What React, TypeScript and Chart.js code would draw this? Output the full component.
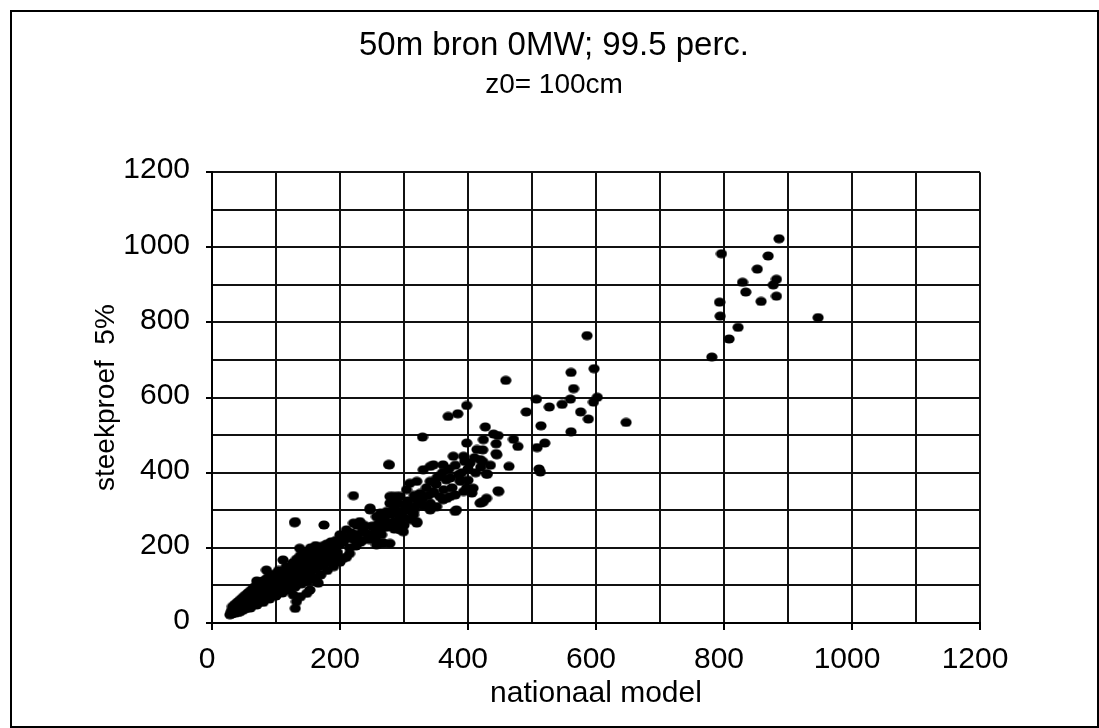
import React, { useEffect, useRef } from 'react';
import { Chart, registerables } from 'chart.js';

Chart.register(...registerables);

const titel = '50m bron 0MW; 99.5 perc.';
const ondertitel = 'z0= 100cm';
const xAsTitel = 'nationaal model';
const yAsTitel = 'steekproef  5%';
const asMin = 0;
const asMax = 1200;
const rasterStap = 100;
const labelStap = 200;

// dense band near the origin
const clusterLaag: [number, number][] = [
  [28, 22], [30, 30], [31, 24], [32, 36], [33, 28], [34, 42], [35, 32], [36, 26], [37, 38], [38, 46],
  [39, 34], [40, 28], [41, 42], [42, 50], [43, 36], [44, 30], [45, 46], [46, 56], [47, 40], [48, 34],
  [49, 50], [50, 60], [51, 44], [52, 38], [53, 54], [54, 64], [55, 48], [56, 40], [57, 58], [58, 70],
  [59, 52], [60, 44], [61, 62], [62, 74], [63, 56], [64, 48], [65, 66], [66, 80], [67, 60], [68, 52],
  [69, 70], [70, 84], [71, 64], [72, 56], [73, 76], [74, 90], [75, 68], [76, 58], [77, 80], [78, 94],
  [79, 72], [80, 62], [81, 84], [82, 100], [83, 76], [84, 66], [85, 90], [86, 104], [87, 80], [88, 70],
  [89, 94], [90, 110], [91, 84], [92, 74], [93, 98], [94, 116], [95, 88], [96, 78], [97, 102], [98, 120],
  [99, 92], [100, 82], [102, 108], [103, 126], [104, 96], [105, 86], [107, 114], [108, 132], [109, 100], [110, 90],
  [112, 120], [113, 138], [114, 106], [115, 94], [117, 126], [118, 144], [119, 110], [120, 100], [122, 132], [123, 150],
  [124, 116], [125, 104], [127, 138], [128, 156], [129, 122], [130, 110], [132, 144], [133, 162], [134, 128], [135, 116],
  [137, 150], [138, 168], [139, 134], [140, 120], [142, 156], [143, 174], [144, 140], [145, 126], [147, 162], [148, 180],
  [149, 146], [150, 132], [152, 168], [154, 186], [155, 152], [156, 138], [158, 174], [160, 192], [161, 158], [162, 144],
  [164, 180], [166, 198], [167, 164], [168, 150], [170, 186], [172, 204], [173, 170], [175, 156], [177, 192], [179, 210],
  [180, 176], [182, 162], [184, 198], [186, 216], [188, 182], [190, 168], [192, 204], [194, 220], [196, 188], [198, 174],
  [200, 210],
];

// upper and lower edge of the low band
const randLaag: [number, number][] = [
  [32, 44], [36, 50], [40, 56], [44, 62], [48, 68], [52, 74], [56, 80], [60, 86], [64, 92], [68, 98],
  [72, 102], [76, 108], [80, 112], [84, 116], [88, 122], [92, 126], [96, 130], [104, 140], [110, 124], [116, 150],
  [120, 136], [126, 160], [132, 170], [138, 180], [146, 190], [154, 200], [162, 206],
  [60, 40], [70, 48], [80, 55], [90, 64], [100, 72], [110, 80], [120, 88], [130, 96], [140, 104], [150, 112],
  [160, 120], [170, 128], [180, 140], [190, 150], [200, 162], [210, 175],
];

// scattered points around the low band
const uitschietersLaag: [number, number][] = [
  [70, 112], [85, 141], [111, 168], [129, 267], [137, 199], [164, 110], [153, 124], [132, 57], [130, 39], [148, 79],
  [138, 70], [127, 75], [166, 106], [153, 88], [175, 261], [205, 172], [174, 203], [190, 195], [221, 266], [130, 270],
];

// band 200 - 350
const clusterMidden: [number, number][] = [
  [200, 235], [205, 230], [210, 248], [221, 339], [226, 261], [231, 270], [236, 248], [247, 301], [252, 230], [257, 283],
  [257, 208], [268, 213], [268, 283], [276, 422], [278, 257], [278, 212], [278, 337], [278, 319], [283, 301], [289, 319],
  [289, 337], [291, 288], [294, 337], [294, 248], [299, 243], [299, 315], [304, 355], [309, 310], [309, 372], [315, 288],
  [320, 270], [320, 328], [320, 377], [263, 292], [247, 306], [263, 213],
  [205, 215], [212, 225], [215, 200], [218, 240], [222, 222], [228, 236], [232, 215], [238, 260], [242, 238], [246, 222],
  [250, 258], [255, 245], [260, 265], [262, 240], [265, 252], [270, 275], [273, 255], [280, 290], [284, 270], [288, 300],
  [292, 268], [296, 295], [300, 280], [303, 300], [306, 325], [312, 295], [316, 340], [318, 310], [325, 345], [328, 330],
  [330, 312], [335, 360], [338, 340], [283, 337], [291, 319], [273, 297], [315, 297], [320, 266], [289, 292], [294, 275],
  [273, 266], [277, 421], [215, 185], [225, 205], [235, 220], [245, 235], [255, 225], [265, 235], [285, 250], [300, 260],
  [310, 275],
];

// band 320 - 480
const clusterHoog: [number, number][] = [
  [330, 408], [346, 421], [361, 421], [377, 444], [393, 444], [403, 426], [429, 397], [445, 448], [341, 377], [356, 390],
  [372, 386], [388, 377], [393, 350], [406, 346], [448, 350], [424, 323], [419, 319], [380, 297], [356, 337], [346, 350],
  [330, 337], [341, 301], [351, 310], [361, 328], [372, 337], [398, 579], [384, 557], [369, 550], [329, 495], [398, 479],
  [414, 462], [419, 435], [430, 396], [341, 417], [366, 381], [388, 381], [408, 359], [447, 352], [429, 332], [421, 321],
  [380, 341], [382, 301], [346, 346], [341, 319], [325, 328], [367, 332], [424, 488],
  [350, 370], [360, 400], [370, 410], [380, 420], [390, 400], [400, 410], [395, 430], [410, 440], [385, 395], [375, 360],
  [362, 355], [352, 388], [400, 380], [412, 400], [420, 415], [435, 420], [398, 360],
];

// points 420 - 650
const clusterTop: [number, number][] = [
  [586, 765], [597, 677], [561, 667], [459, 646], [565, 624], [507, 596], [560, 596], [602, 601], [596, 588], [527, 575],
  [547, 582], [491, 562], [576, 562], [588, 543], [647, 534], [514, 525], [561, 509], [427, 522], [440, 503], [447, 499],
  [471, 489], [478, 470], [444, 477], [520, 479], [508, 467], [444, 451], [423, 461], [423, 430], [464, 417], [511, 410],
  [513, 402],
];

// points 780 - 950
const clusterRechts: [number, number][] = [
  [886, 1023], [796, 983], [869, 977], [852, 942], [829, 907], [882, 915], [877, 900], [834, 881], [882, 870], [858, 856],
  [793, 854], [794, 817], [947, 813], [822, 787], [808, 756], [781, 708],
];

const FONT = '"Liberation Sans", Arial, Helvetica, sans-serif';
const INK = '#000000';

export default function App() {
  const ref = useRef<HTMLCanvasElement>(null);

  useEffect(() => {
    const dot = document.createElement('canvas');
    dot.width = 12;
    dot.height = 10;
    const c = dot.getContext('2d')!;
    c.fillStyle = INK;
    c.beginPath();
    c.ellipse(6, 5, 5.6, 4.5, 0, 0, Math.PI * 2);
    c.fill();

    const punten = [
      ...clusterLaag,
      ...randLaag,
      ...uitschietersLaag,
      ...clusterMidden,
      ...clusterHoog,
      ...clusterTop,
      ...clusterRechts,
    ].map(([x, y]) => ({ x, y }));

    const tickKleur = (ctx: any) =>
      ctx.tick && ctx.tick.value % labelStap === 0 ? INK : 'rgba(0,0,0,0)';

    const chart = new Chart(ref.current!, {
      type: 'scatter',
      data: {
        datasets: [
          {
            data: punten,
            pointStyle: dot as any,
            pointRadius: 5,
            backgroundColor: INK,
            borderColor: INK,
          },
        ],
      },
      options: {
        responsive: false,
        animation: false,
        events: [],
        layout: { padding: { left: 9, right: 0, top: 0, bottom: 0 } },
        plugins: {
          legend: { display: false },
          tooltip: { enabled: false },
          title: {
            display: true,
            text: titel,
            color: INK,
            font: { family: FONT, size: 33, weight: 'normal' },
            padding: { top: 26, bottom: 0 },
          },
          subtitle: {
            display: true,
            text: ondertitel,
            color: INK,
            font: { family: FONT, size: 28, weight: 'normal' },
            padding: { top: 3, bottom: 70 },
          },
        },
        scales: {
          x: {
            type: 'linear',
            min: asMin,
            max: asMax,
            afterFit: (s: any) => {
              s.height = 105;
            },
            ticks: {
              stepSize: rasterStap,
              autoSkip: false,
              maxRotation: 0,
              color: INK,
              padding: 12,
              labelOffset: -5,
              font: { family: FONT, size: 30 },
              callback: (v: any) => (Number(v) % labelStap === 0 ? String(v) : ''),
            },
            grid: { color: '#111', lineWidth: 2, tickLength: 7, tickColor: tickKleur, tickWidth: 2 },
            border: { color: INK, width: 2 },
            title: {
              display: true,
              text: xAsTitel,
              color: INK,
              font: { family: FONT, size: 30 },
              padding: { top: 0, bottom: 16 },
            },
          },
          y: {
            type: 'linear',
            min: asMin,
            max: asMax,
            afterFit: (s: any) => {
              s.width = 203;
            },
            ticks: {
              stepSize: rasterStap,
              autoSkip: false,
              color: INK,
              padding: 16,
              labelOffset: -2,
              font: { family: FONT, size: 30 },
              callback: (v: any) => (Number(v) % labelStap === 0 ? String(v) : ''),
            },
            grid: { color: '#111', lineWidth: 2, tickLength: 6, tickColor: tickKleur, tickWidth: 2 },
            border: { color: INK, width: 2 },
            title: {
              display: true,
              text: yAsTitel,
              color: INK,
              font: { family: FONT, size: 28 },
              padding: { top: 80, bottom: 0 },
            },
          },
          rechts: {
            type: 'linear',
            position: 'right',
            min: asMin,
            max: asMax,
            afterFit: (s: any) => {
              s.width = 119;
            },
            grid: { display: false, drawOnChartArea: false },
            ticks: { display: false },
            border: { display: false },
          },
        },
      },
    });

    return () => chart.destroy();
  }, []);

  return (
    <div style={{ position: 'fixed', left: 0, top: 0, width: 1099, height: 728, background: '#fff' }}>
      <canvas
        ref={ref}
        width={1099}
        height={728}
        style={{ position: 'absolute', left: 0, top: 0, width: 1099, height: 728 }}
      />
      <div
        style={{
          position: 'absolute',
          left: 10,
          top: 10,
          width: 1085,
          height: 714,
          border: '2px solid #000',
          pointerEvents: 'none',
        }}
      />
    </div>
  );
}
